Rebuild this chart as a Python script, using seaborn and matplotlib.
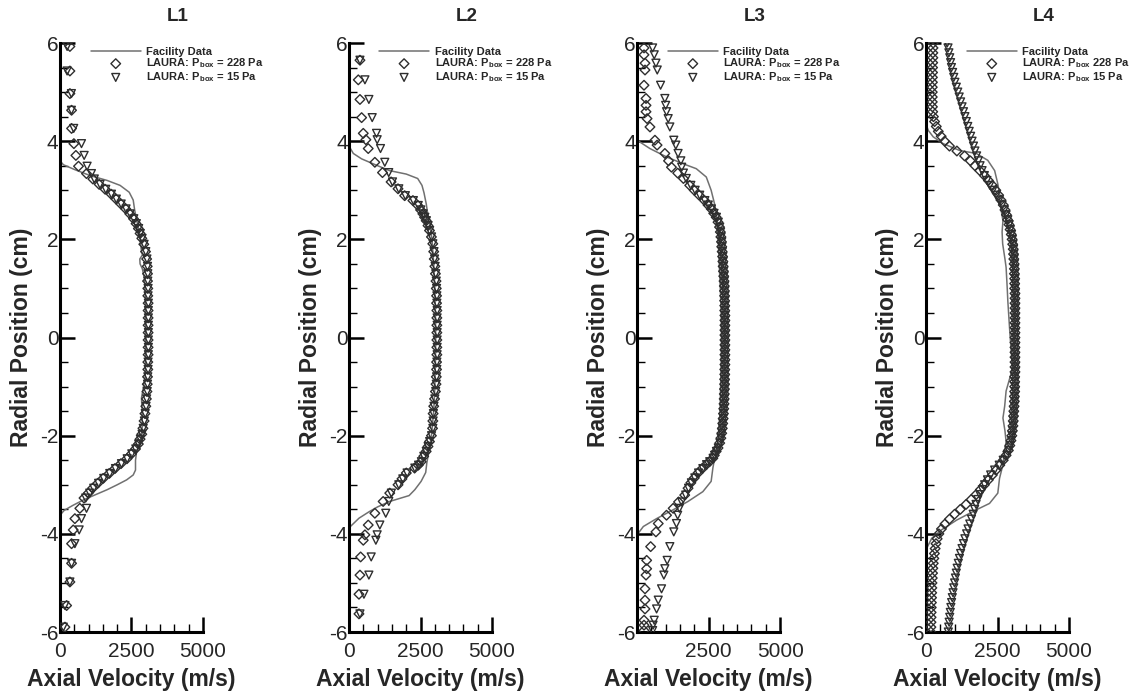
"""
Axial velocity profiles at four locations (L1-L4):
facility data vs LAURA computations at two box pressures.
"""
import matplotlib
matplotlib.use("Agg")
import matplotlib.pyplot as plt
from matplotlib.ticker import MultipleLocator
import seaborn as sns

sns.set_style("ticks")
plt.rcParams["font.family"] = ["Liberation Sans", "DejaVu Sans"]
plt.rcParams["axes.unicode_minus"] = False
plt.rcParams["mathtext.fontset"] = "custom"
plt.rcParams["mathtext.rm"] = "Liberation Sans"
plt.rcParams["mathtext.bf"] = "Liberation Sans:bold"

LINE_C = "#707070"
MARK_C = "#2e2e2e"

TITLES = ["L1", "L2", "L3", "L4"]
LABEL_228 = [r"LAURA: P$_{\mathbf{box}}$ = 228 Pa"] * 3 + [r"LAURA: P$_{\mathbf{box}}$ 228 Pa"]
LABEL_15 = [r"LAURA: P$_{\mathbf{box}}$ = 15 Pa"] * 3 + [r"LAURA: P$_{\mathbf{box}}$ 15 Pa"]

# ---------------------------------------------------------------------------
# L1
# ---------------------------------------------------------------------------
L1_LINE_Y = [6.0, 3.60, 3.52, 3.42, 3.30, 3.20, 3.10, 2.96, 2.80, 2.60,
             2.40, 2.20, 2.00, 1.80, 1.68, 1.60, 1.50, 1.40, 1.20, 0.80,
             0.30, -0.30, -0.80, -1.23, -1.50, -1.80, -2.10, -2.32, -2.50, -2.70,
             -2.80, -2.90, -3.00, -3.10, -3.20, -3.30, -3.42, -3.52, -3.62, -6.0]
L1_LINE_X = [0, 0, 120, 520, 1050, 1650, 2100, 2420, 2560, 2610,
             2680, 2750, 2800, 2840, 2880, 2790, 2800, 2880, 2950, 2990,
             3000, 3000, 2980, 2850, 2870, 2880, 2820, 2680, 2640, 2640,
             2560, 2330, 2000, 1650, 1250, 850, 450, 150, 0, 0]

L1_Y = [5.93, 5.43, 4.97, 4.63, 4.26, 3.95, 3.71, 3.49, 3.34,
        3.23, 3.12, 3.02, 2.92, 2.82, 2.72, 2.62, 2.52, 2.42, 2.32, 2.22, 2.12, 2.02, 1.90,
        1.75, 1.60, 1.45, 1.30, 1.15, 1.00, 0.85, 0.70, 0.55, 0.40, 0.25, 0.10,
        -0.05, -0.20, -0.35, -0.50, -0.65, -0.80, -0.95, -1.10, -1.25, -1.40, -1.55, -1.70, -1.85,
        -1.97, -2.07, -2.17, -2.27, -2.37, -2.47, -2.57, -2.67, -2.77, -2.87, -2.97, -3.07, -3.17, -3.27,
        -3.48, -3.69, -3.92, -4.20, -4.60, -4.98, -5.46, -5.90]
L1_X_228 = [347, 347, 347, 405, 405, 486, 556, 648, 926,
            1150, 1370, 1580, 1790, 1960, 2130, 2300, 2440, 2570, 2660, 2740, 2800, 2860, 2930,
            2990, 3030, 3050, 3060, 3060, 3070, 3070, 3080, 3080, 3080, 3080, 3080,
            3080, 3080, 3080, 3070, 3070, 3060, 3050, 3040, 3020, 3000, 2970, 2940, 2900,
            2860, 2800, 2740, 2640, 2500, 2340, 2130, 1920, 1720, 1510, 1320, 1140, 990, 840,
            694, 521, 463, 405, 405, 347, 232, 174]
L1_X_15 = [250, 250, 400, 400, 480, 752, 845, 949, 1100,
           1200, 1400, 1600, 1800, 1970, 2140, 2310, 2450, 2580, 2670, 2750, 2810, 2870, 2940,
           3000, 3040, 3060, 3070, 3070, 3080, 3080, 3090, 3090, 3090, 3090, 3090,
           3090, 3090, 3090, 3080, 3080, 3070, 3060, 3050, 3030, 3010, 2980, 2950, 2910,
           2870, 2810, 2750, 2650, 2510, 2350, 2150, 1940, 1740, 1530, 1350, 1180, 1040, 900,
           927, 752, 671, 521, 405, 347, 174, 116]

# ---------------------------------------------------------------------------
# L2
# ---------------------------------------------------------------------------
L2_LINE_Y = [6.0, 3.90, 3.75, 3.64, 3.51, 3.40, 3.33, 3.24, 3.10, 2.95,
             2.72, 2.52, 2.30, 2.00, 1.50, 1.00, 0.50, 0.00, -0.50, -1.00,
             -1.50, -2.00, -2.30, -2.55, -2.75, -2.93, -3.10, -3.22, -3.34, -3.45,
             -3.55, -3.68, -3.86, -6.0]
L2_LINE_X = [0, 0, 150, 440, 960, 1420, 2000, 2400, 2550, 2620,
             2700, 2750, 2820, 2900, 2960, 3000, 3020, 3030, 3020, 3000,
             2960, 2880, 2800, 2720, 2680, 2520, 2300, 2100, 1420, 1000,
             700, 350, 30, 0]

L2_Y = [5.65, 5.25, 4.85, 4.48, 4.16, 4.03, 3.85, 3.57, 3.36,
        3.17, 3.03, 2.89, 2.79, 2.69, 2.60, 2.52, 2.45, 2.38, 2.28, 2.18, 2.05, 1.91,
        1.75, 1.60, 1.45, 1.30, 1.15, 1.00, 0.85, 0.70, 0.55, 0.40, 0.25, 0.10,
        -0.05, -0.20, -0.35, -0.50, -0.65, -0.80, -0.95, -1.10, -1.25, -1.40, -1.55, -1.70, -1.85,
        -2.00, -2.12, -2.22, -2.32, -2.42, -2.53, -2.60, -2.66, -2.76, -2.88, -3.00, -3.17, -3.34,
        -3.58, -3.82, -4.02, -4.13, -4.47, -4.84, -5.23, -5.63]
L2_X_228 = [382, 324, 382, 440, 498, 590, 671, 903, 1169,
            1470, 1712, 1944, 2233, 2407, 2500, 2581, 2640, 2697, 2760, 2813, 2880, 2928,
            2960, 2980, 3000, 3020, 3040, 3050, 3060, 3060, 3070, 3070, 3070, 3070,
            3070, 3070, 3070, 3060, 3060, 3050, 3040, 3020, 2990, 2960, 2940, 2930, 2920,
            2880, 2813, 2760, 2697, 2610, 2523, 2420, 2291, 2002, 1850, 1712, 1423, 1192,
            903, 671, 556, 498, 405, 382, 347, 347]
L2_X_15 = [382, 556, 694, 810, 961, 984, 1100, 1250, 1388,
           1520, 1740, 1970, 2250, 2420, 2510, 2590, 2650, 2705, 2765, 2818, 2885, 2930,
           2970, 2990, 3010, 3030, 3050, 3060, 3070, 3070, 3080, 3080, 3080, 3080,
           3080, 3080, 3080, 3070, 3070, 3060, 3050, 3030, 3000, 2970, 2950, 2940, 2930,
           2885, 2818, 2765, 2700, 2615, 2530, 2430, 2300, 2030, 1880, 1740, 1480, 1390,
           1284, 1076, 984, 938, 775, 694, 521, 382]

# ---------------------------------------------------------------------------
# L3
# ---------------------------------------------------------------------------
L3_LINE_Y = [6.0, 4.02, 3.85, 3.68, 3.54, 3.44, 3.27, 3.00, 2.72, 2.52,
             2.20, 1.80, 1.40, 1.00, 0.50, 0.00, -0.50, -1.00, -1.50, -2.00,
             -2.30, -2.50, -2.66, -2.93, -3.14, -3.34, -3.51, -3.69, -3.85, -4.02,
             -6.0]
L3_LINE_X = [0, 0, 450, 1030, 1610, 2070, 2420, 2590, 2710, 2770,
             2820, 2850, 2880, 2910, 2940, 2950, 2940, 2920, 2900, 2850,
             2780, 2700, 2650, 2590, 2300, 1780, 1260, 680, 220, 0,
             0]

L3_Y = [5.90, 5.76, 5.59, 5.45, 5.14, 4.87, 4.73, 4.60, 4.46, 4.29, 4.02, 3.92, 3.75, 3.60, 3.47, 3.35,
        3.24, 3.10, 3.00, 2.90, 2.79, 2.70, 2.62, 2.53, 2.45, 2.35, 2.25, 2.15, 2.05, 1.95,
        1.85, 1.75, 1.65, 1.55, 1.45, 1.35, 1.25, 1.15, 1.05, 0.95,
        0.85, 0.75, 0.65, 0.55, 0.45, 0.35, 0.25, 0.15, 0.05, -0.05,
        -0.15, -0.25, -0.35, -0.45, -0.55, -0.65, -0.75, -0.85, -0.95, -1.05,
        -1.15, -1.25, -1.35, -1.45, -1.55, -1.65, -1.75, -1.85,
        -1.95, -2.05, -2.15, -2.25, -2.32, -2.40, -2.46, -2.53, -2.59, -2.67, -2.76, -2.86, -2.96, -3.07,
        -3.21, -3.35,
        -3.48, -3.62, -3.79, -3.96, -4.26, -4.54, -4.71, -4.84, -5.12, -5.35, -5.53, -5.76, -5.86, -5.97]
L3_X_228 = [243, 243, 278, 278, 243, 313, 313, 313, 350, 451, 625, 700, 972, 1100, 1203, 1420,
            1620, 1840, 2000, 2170, 2360, 2480, 2592, 2680, 2766, 2830, 2882, 2910, 2930, 2950,
            2960, 2975, 2990, 3000, 3010, 3020, 3030, 3040, 3050, 3055,
            3060, 3060, 3065, 3065, 3070, 3070, 3070, 3070, 3070, 3070,
            3070, 3070, 3070, 3070, 3070, 3065, 3065, 3060, 3060, 3055,
            3050, 3045, 3040, 3030, 3020, 3010, 2995, 2980,
            2960, 2930, 2890, 2830, 2766, 2700, 2650, 2530, 2418, 2280, 2130, 2000, 1880, 1782,
            1666, 1450,
            1261, 1030, 741, 660, 475, 336, 336, 313, 278, 278, 278, 243, 243, 243]
L3_X_15 = [544, 600, 660, 706, 822, 972, 1000, 1030, 1088, 1146, 1284, 1354, 1434, 1530, 1560, 1620,
           1720, 1880, 2030, 2190, 2370, 2490, 2600, 2690, 2775, 2840, 2890, 2920, 2940, 2960,
           2970, 2985, 3000, 3010, 3020, 3030, 3040, 3050, 3060, 3065,
           3070, 3070, 3075, 3075, 3080, 3080, 3080, 3080, 3080, 3080,
           3080, 3080, 3080, 3080, 3080, 3075, 3075, 3070, 3070, 3065,
           3060, 3055, 3050, 3040, 3030, 3020, 3005, 2990,
           2970, 2940, 2900, 2840, 2775, 2710, 2660, 2540, 2430, 2300, 2150, 2020, 1900, 1800,
           1700, 1560,
           1480, 1420, 1377, 1284, 1146, 1053, 972, 937, 856, 741, 683, 600, 560, 544]

# ---------------------------------------------------------------------------
# L4
# ---------------------------------------------------------------------------
L4_LINE_Y = [6.0, 4.35, 4.22, 4.09, 3.95, 3.81, 3.75, 3.61, 3.40, 3.13,
             2.93, 2.79, 2.55, 2.38, 2.15, 1.91, 1.60, 1.43, 1.00, 0.75,
             0.20, -0.30, -0.62, -1.09, -1.40, -1.64, -1.90, -2.12, -2.35, -2.59,
             -2.87, -3.17, -3.38, -3.51, -3.72, -3.92, -4.09, -4.30, -6.0]
L4_LINE_X = [0, 0, 80, 250, 600, 1180, 1760, 2160, 2400, 2510,
             2570, 2570, 2640, 2690, 2660, 2680, 2760, 2800, 2840, 2860,
             2920, 2980, 3030, 2800, 2750, 2690, 2760, 2800, 2740, 2690,
             2570, 2510, 2220, 1760, 1070, 540, 200, 20, 0]

L4_Y = [6.0, 5.9, 5.8, 5.7, 5.6, 5.5, 5.4, 5.3, 5.2, 5.1,
        5.0, 4.9, 4.8, 4.7, 4.6, 4.5, 4.4, 4.3, 4.2, 4.1,
        4.0, 3.9, 3.8, 3.7, 3.6, 3.5, 3.4, 3.3, 3.2, 3.1,
        3.0, 2.9, 2.8, 2.7, 2.6, 2.5, 2.4, 2.3, 2.2, 2.1,
        2.0, 1.9, 1.8, 1.7, 1.6, 1.5, 1.4, 1.3, 1.2, 1.1,
        1.0, 0.9, 0.8, 0.7, 0.6, 0.5, 0.4, 0.3, 0.2, 0.1,
        0.0, -0.1, -0.2, -0.3, -0.4, -0.5, -0.6, -0.7, -0.8, -0.9,
        -1.0, -1.1, -1.2, -1.3, -1.4, -1.5, -1.6, -1.7, -1.8, -1.9,
        -2.0, -2.1, -2.2, -2.3, -2.4, -2.5, -2.6, -2.7, -2.8, -2.9,
        -3.0, -3.1, -3.2, -3.3, -3.4, -3.5, -3.6, -3.7, -3.8, -3.9,
        -4.0, -4.1, -4.2, -4.3, -4.4, -4.5, -4.6, -4.7, -4.8, -4.9,
        -5.0, -5.1, -5.2, -5.3, -5.4, -5.5, -5.6, -5.7, -5.8, -5.9,
        -6.0]
L4_X_228 = [250, 245, 240, 240, 235, 230, 230, 225, 225, 220,
            220, 220, 220, 225, 235, 260, 300, 360, 430, 530,
            650, 820, 1080, 1350, 1550, 1710, 1880, 2040, 2180, 2320,
            2440, 2540, 2620, 2700, 2760, 2810, 2850, 2900, 2940, 2980,
            3010, 3030, 3050, 3060, 3070, 3080, 3090, 3090, 3100, 3100,
            3100, 3110, 3110, 3110, 3110, 3110, 3110, 3110, 3110, 3110,
            3110, 3110, 3110, 3110, 3110, 3110, 3110, 3110, 3100, 3100,
            3100, 3100, 3090, 3090, 3080, 3070, 3060, 3050, 3040, 3020,
            3000, 2970, 2930, 2880, 2800, 2700, 2580, 2450, 2320, 2180,
            2040, 1900, 1750, 1580, 1400, 1200, 1000, 820, 660, 540,
            450, 390, 350, 320, 295, 275, 255, 240, 230, 220,
            210, 205, 200, 195, 190, 185, 180, 178, 175, 172,
            170]
L4_X_15 = [740, 770, 800, 830, 860, 890, 930, 970, 1010, 1060,
           1110, 1160, 1210, 1260, 1310, 1360, 1410, 1460, 1510, 1560,
           1610, 1660, 1710, 1770, 1830, 1890, 1960, 2040, 2130, 2230,
           2340, 2450, 2560, 2660, 2740, 2800, 2860, 2910, 2950, 2990,
           3020, 3040, 3060, 3070, 3080, 3090, 3100, 3100, 3110, 3110,
           3110, 3120, 3120, 3120, 3120, 3120, 3120, 3120, 3120, 3120,
           3120, 3120, 3120, 3120, 3120, 3120, 3120, 3120, 3110, 3110,
           3110, 3110, 3100, 3100, 3090, 3080, 3070, 3060, 3050, 3030,
           3010, 2990, 2950, 2900, 2830, 2700, 2560, 2400, 2260, 2150,
           2050, 1970, 1880, 1810, 1750, 1700, 1650, 1590, 1530, 1470,
           1420, 1360, 1310, 1260, 1210, 1170, 1130, 1090, 1060, 1030,
           1000, 970, 945, 920, 895, 870, 850, 830, 810, 795,
           780]

LINE_XS = [L1_LINE_X, L2_LINE_X, L3_LINE_X, L4_LINE_X]
LINE_YS = [L1_LINE_Y, L2_LINE_Y, L3_LINE_Y, L4_LINE_Y]
LAURA_YS = [L1_Y, L2_Y, L3_Y, L4_Y]
LAURA_X228 = [L1_X_228, L2_X_228, L3_X_228, L4_X_228]
LAURA_X15 = [L1_X_15, L2_X_15, L3_X_15, L4_X_15]
XTICK_LABELS = [["0", "2500", "5000"], ["0", "2500", "5000"],
                ["", "2500", "5000"], ["0", "2500", "5000"]]

# layout (figure fractions)
AX_LEFT = [0.0527, 0.3067, 0.5598, 0.8137]
AX_BOTTOM, AX_W, AX_H = 0.0906, 0.1257, 0.8475
LEG_X = [0.215, 0.21, 0.215, 0.285]


def draw_panel(ax, i):
    sns.lineplot(x=LINE_XS[i], y=LINE_YS[i], sort=False, estimator=None,
                 color=LINE_C, linewidth=1.1, ax=ax, label="Facility Data", zorder=2)
    sns.scatterplot(x=LAURA_X228[i], y=LAURA_YS[i], marker="D", s=24,
                    fc="none", ec=MARK_C, linewidth=1.0, ax=ax,
                    label=LABEL_228[i], zorder=3)
    sns.scatterplot(x=LAURA_X15[i], y=LAURA_YS[i], marker="v", s=32,
                    fc="none", ec=MARK_C, linewidth=1.0, ax=ax,
                    label=LABEL_15[i], zorder=3)

    ax.set_xlim(0, 5000)
    ax.set_ylim(-6, 6)
    ax.set_xticks([0, 2500, 5000], labels=XTICK_LABELS[i])
    ax.xaxis.set_minor_locator(MultipleLocator(500))
    ax.yaxis.set_major_locator(MultipleLocator(2))
    ax.yaxis.set_minor_locator(MultipleLocator(0.5))
    ax.tick_params(which="major", direction="in", length=11, width=1.8,
                   labelsize=15, color="black")
    ax.tick_params(axis="y", which="major", pad=1)
    ax.tick_params(axis="x", which="major", pad=7)
    ax.tick_params(which="minor", direction="in", length=6, width=1.0, color="black")

    sns.despine(ax=ax)
    for side in ("left", "bottom"):
        ax.spines[side].set_linewidth(2.2)
        ax.spines[side].set_color("black")

    ax.set_xlabel("Axial Velocity (m/s)", fontsize=16.5, fontweight="bold", labelpad=5)
    ax.set_ylabel("Radial Position (cm)", fontsize=16.5, fontweight="bold", labelpad=5)
    ax.text(0.82, 1.045, TITLES[i], transform=ax.transAxes, ha="center", va="center",
            fontsize=13.5, fontweight="bold")

    ax.legend(loc="upper left", bbox_to_anchor=(LEG_X[i], 0.994), frameon=False,
              prop={"weight": "bold", "size": 8}, handlelength=4.5,
              handletextpad=0.5, labelspacing=0.0, borderpad=0,
              borderaxespad=0, scatterpoints=1)


fig = plt.figure(figsize=(11.38, 6.95), dpi=100)
for i in range(4):
    ax = fig.add_axes([AX_LEFT[i], AX_BOTTOM, AX_W, AX_H])
    draw_panel(ax, i)

fig.savefig("out.png", dpi=100)
